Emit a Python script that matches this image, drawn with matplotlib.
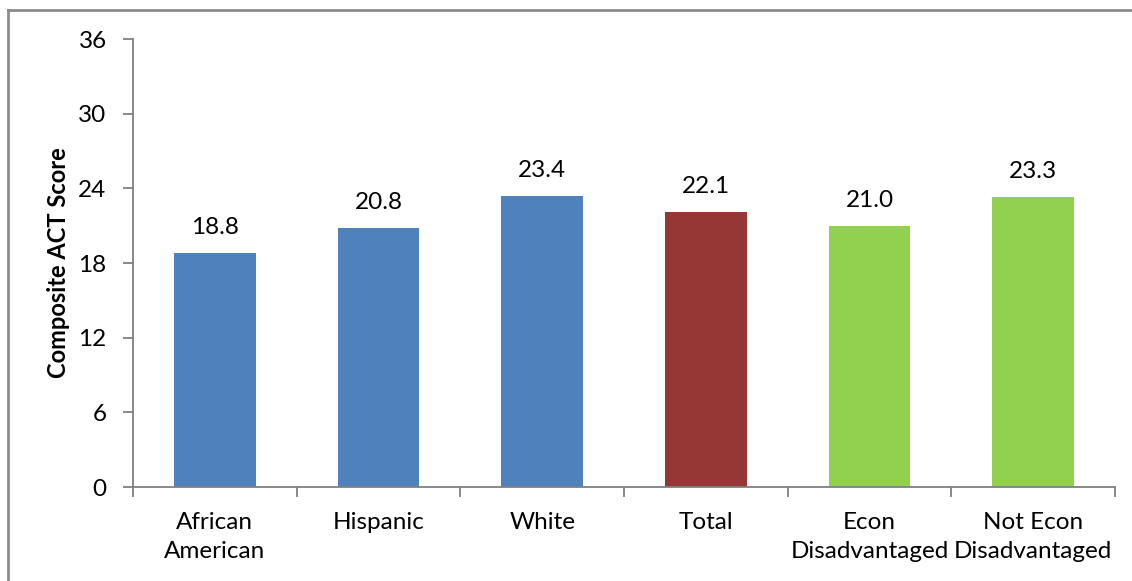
import matplotlib
matplotlib.use("Agg")
import matplotlib.pyplot as plt
from matplotlib.lines import Line2D

categories = ["African\nAmerican", "Hispanic", "White", "Total", "Econ\nDisadvantaged", "Not Econ\nDisadvantaged"]
values = [18.8, 20.8, 23.4, 22.1, 21.0, 23.3]
colors = ["#4F81BD", "#4F81BD", "#4F81BD", "#953735", "#92D050", "#92D050"]
yticks = [0, 6, 12, 18, 24, 30, 36]

plt.rcParams['font.family'] = ['Lato', 'DejaVu Sans']

fig = plt.figure(figsize=(11.32, 5.81), dpi=100)
ax = fig.add_axes([133/1132, 1-487/581, (1115-133)/1132, (487-39)/581])

x = list(range(len(categories)))
bars = ax.bar(x, values, width=0.5, color=colors, zorder=2)
for xi, v in zip(x, values):
    ax.text(xi, v + 1.2, f"{v:.1f}", ha="center", va="bottom", fontsize=17.5)

ax.set_xlim(-0.5, len(categories) - 0.5)
ax.set_ylim(0, 36)
ax.set_yticks(yticks)
ax.set_yticklabels([str(t) for t in yticks], fontsize=17.5)
ax.set_xticks(x)
ax.set_xticklabels(categories, fontsize=17.5, linespacing=1.5)
ax.tick_params(axis='x', length=0, pad=18)
ax.set_xticks([i - 0.5 for i in range(len(categories) + 1)], minor=True)
ax.tick_params(axis='x', which='minor', length=7, color="#808080", width=1.3)
ax.tick_params(axis='y', length=7, color="#808080", width=1.3, pad=12)

for s in ["top", "right"]:
    ax.spines[s].set_visible(False)
for s in ["left", "bottom"]:
    ax.spines[s].set_color("#808080")
    ax.spines[s].set_linewidth(1.3)

ax.set_ylabel("Composite ACT Score", fontsize=17, fontweight="bold", va="center")
ax.yaxis.set_label_coords(-75/982, 0.5)

# outer border
fig.add_artist(Line2D([8/1132, 8/1132], [0, 1-10/581], transform=fig.transFigure, color="#8c8c8c", lw=2))
fig.add_artist(Line2D([8/1132, 1], [1-10/581, 1-10/581], transform=fig.transFigure, color="#8c8c8c", lw=2))

fig.savefig("out.png", dpi=100)
